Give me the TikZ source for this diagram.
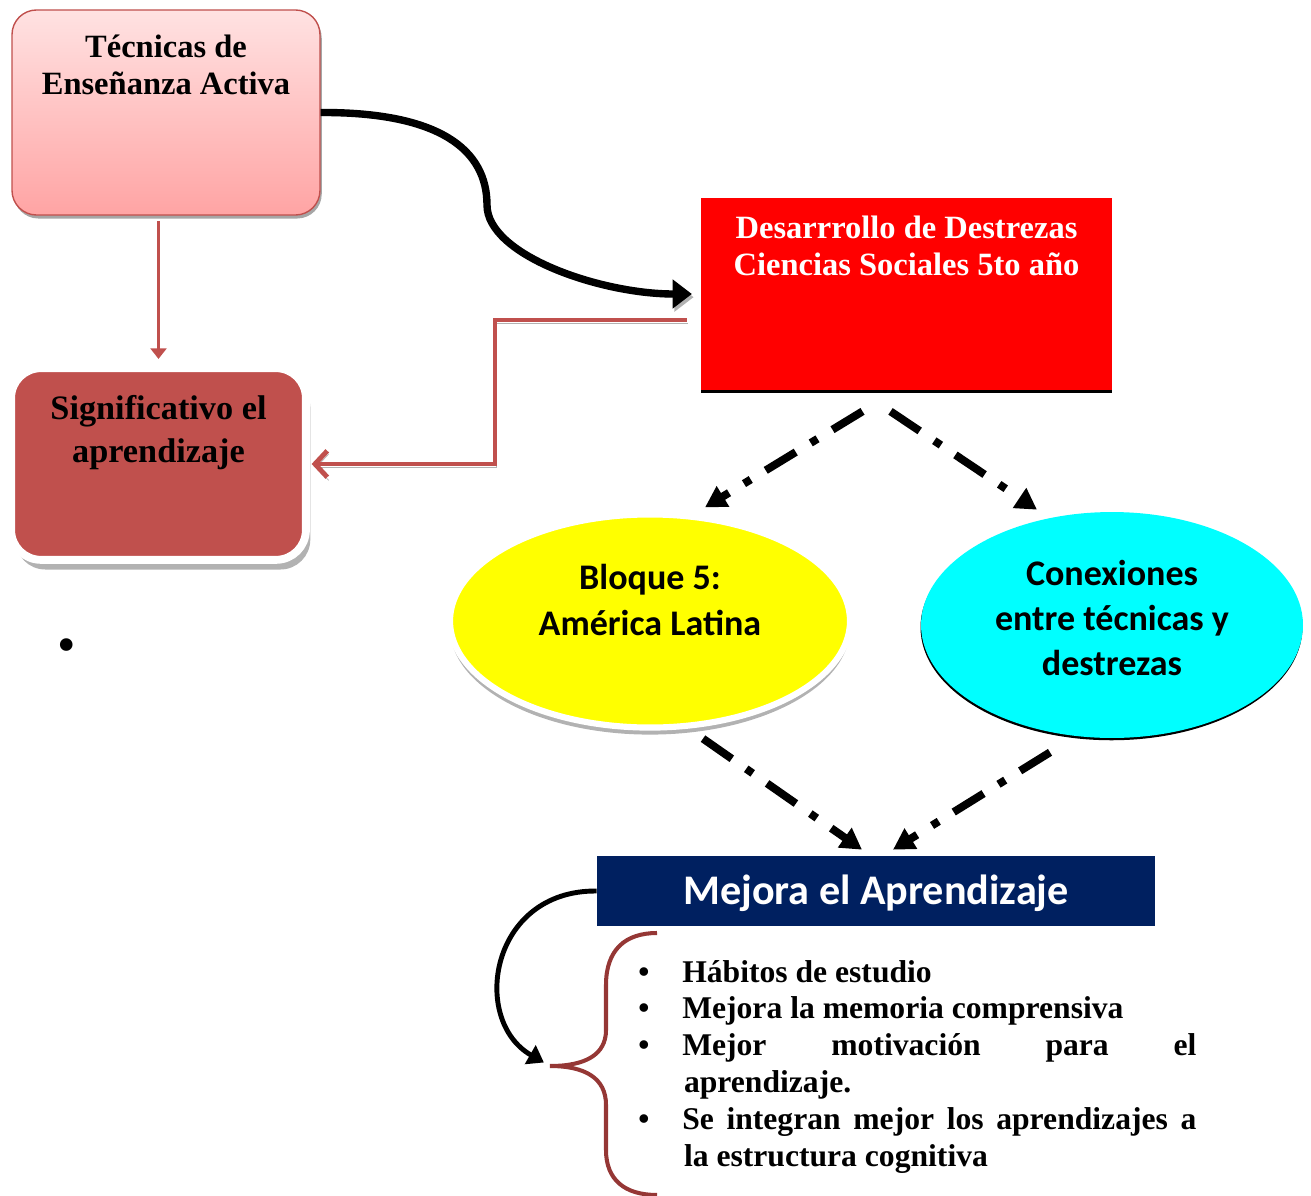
\documentclass[tikz,border=0pt]{standalone}
\usepackage{fontspec}
\setmainfont{Liberation Serif}
\newfontfamily\calibri{Carlito}
\usetikzlibrary{arrows.meta,calc,shapes.geometric,shadows}

\definecolor{rojoborde}{HTML}{C0504D}
\definecolor{rosaarriba}{HTML}{FFE2E2}
\definecolor{rosaabajo}{HTML}{FFA4A4}
\definecolor{rojopuro}{HTML}{FF0000}
\definecolor{amarillo}{HTML}{FFFF00}
\definecolor{celeste}{HTML}{00FFFF}
\definecolor{marino}{HTML}{002060}
\definecolor{llavecolor}{HTML}{953735}

\begin{document}
\begin{tikzpicture}
  [x=0.02cm,y=-0.02cm,
   cajatec/.style={rectangle,rounded corners=14pt,draw=rojoborde,line width=0.8pt,
     top color=rosaarriba,bottom color=rosaabajo,
     drop shadow={shadow xshift=1pt,shadow yshift=-2pt,fill=gray!70,opacity=1},
     inner sep=0pt,align=flush center,font=\bfseries\fontsize{18.5}{21}\selectfont},
   cajasig/.style={rectangle,rounded corners=17pt,fill=rojoborde,draw=white,line width=4.5pt,
     drop shadow={shadow xshift=2.5pt,shadow yshift=-5.5pt,fill=gray!60,opacity=1},
     inner sep=0pt,align=flush center,font=\bfseries\fontsize{19.5}{24}\selectfont},
   cajades/.style={rectangle,fill=rojopuro,text=white,
     drop shadow={shadow xshift=0pt,shadow yshift=-1.6pt,fill=black,opacity=1},
     inner sep=0pt,align=flush center,font=\bfseries\fontsize{18.5}{21.6}\selectfont},
   elipse/.style={ellipse,inner sep=0pt,align=flush center,
     font=\calibri\bfseries\fontsize{20.5}{25.8}\selectfont},
   cajamej/.style={rectangle,fill=marino,text=white,inner sep=0pt,
     font=\calibri\bfseries\fontsize{24}{28}\selectfont},
   curva/.style={line width=4.2pt,-{Triangle[length=11pt,width=16pt]},
     preaction={draw=gray!60,transform canvas={xshift=1pt,yshift=-1.8pt}}},
   rojolinea/.style={draw=rojoborde,line width=2.8pt,-{Straight Barb[length=7pt,width=15pt]},
     preaction={draw=gray!60,transform canvas={xshift=0.8pt,yshift=-1.8pt}}},
   rojoflecha/.style={draw=rojoborde,line width=2.2pt,-{Triangle[length=6pt,width=9pt]}},
   puntos/.style={line width=4.5pt,dash pattern=on 20pt off 10pt on 4.5pt off 10pt,
     -{Triangle[length=12pt,width=13pt]}},
   llave/.style={draw=llavecolor,line width=2.3pt}]

  \useasboundingbox (0,0) rectangle (1311,1196);

  % cajas
  \node[cajatec,minimum width=175.3pt,text width=175pt,text height=27.3pt,text depth=89.4pt]
    (tec) at (166,112.5) {Técnicas de\\Enseñanza Activa};
  \node[cajasig,minimum width=167.8pt,text width=167.5pt,text height=29.5pt,text depth=79.6pt]
    (sig) at (158.5,464) {Significativo el\\aprendizaje};
  \node[cajades,minimum width=233.9pt,text width=233.9pt,text height=22.8pt,text depth=86.5pt]
    (des) at (906.5,294) {Desarrrollo de Destrezas\\Ciencias Sociales 5to año};

  % elipses
  \node[elipse,fill=amarillo,draw=white,line width=3.5pt,
    drop shadow={shadow xshift=0pt,shadow yshift=-4pt,fill=gray!60,opacity=1},
    minimum width=227.7pt,minimum height=121.3pt,text width=150pt,text height=10pt,text depth=45.3pt]
    (bloque) at (650,621) {Bloque 5:\\América Latina};
  \node[elipse,fill=celeste,
    drop shadow={shadow xshift=-0.3pt,shadow yshift=-1.3pt,fill=black,opacity=1},
    minimum width=217.4pt,minimum height=128.6pt,text width=145pt,text height=10pt,text depth=55.5pt]
    (con) at (1112,625) {Conexiones\\entre técnicas y\\destrezas};

  \node[cajamej,minimum width=317.6pt,minimum height=39.8pt,text height=20pt,text depth=4.1pt]
    (mej) at (876,891) {Mejora el Aprendizaje};

  % lista
  \node[anchor=base west,inner sep=0pt,text width=317.6pt,align=justify,
    font=\bfseries\fontsize{18}{21}\selectfont] (lista) at (638,982)
    {\hyphenpenalty=10000
     \noindent\hangindent=26pt\hangafter=1\makebox[25pt][l]{\textbullet}Hábitos de estudio\par
     \noindent\hangindent=26pt\hangafter=1\makebox[25pt][l]{\textbullet}Mejora la memoria comprensiva\par
     \noindent\hangindent=26pt\hangafter=1\makebox[25pt][l]{\textbullet}Mejor motivación para el\linebreak aprendizaje.\par
     \noindent\hangindent=26pt\hangafter=1\makebox[25pt][l]{\textbullet}Se integran mejor los aprendizajes a\linebreak la estructura cognitiva\par};

  \node[inner sep=0pt,font=\fontsize{30}{32}\selectfont] (punto) at (67,651) {\textbullet};

  % llave
  \draw[llave] (657,933) .. controls (625,933) and (606,950) .. (606,985) -- (606,1030)
    .. controls (606,1055) and (585,1066) .. (550,1066)
    .. controls (585,1066) and (606,1078) .. (606,1105) -- (606,1150)
    .. controls (606,1180) and (625,1195) .. (657,1195);
  \coordinate (punta) at (550,1066);

  % conectores
  \coordinate (giro) at (487,205);
  \draw[curva,shorten >=5pt] (tec.east) .. controls (440,112) and (487,150) .. (giro)
    .. controls (487,255) and (600,294) .. (des.west);
  \draw[rojoflecha,shorten <=3pt,shorten >=3pt] (sig.north |- tec.south) -- (sig.north);
  \coordinate (inicio) at ($(des.west)+(-14,26)$);
  \coordinate (codo) at (495,320);
  \draw[rojolinea,shorten >=1pt] (inicio) -- (codo) |- (sig.east);
  \draw[line width=2.8pt,-{Triangle[length=9pt,width=12pt]},shorten >=4pt]
    (mej.west) .. controls (490,890) and (470,1020) .. (punta);

  \coordinate (d1) at ($(des.south)+(-44,21)$);
  \coordinate (d2) at ($(des.south)+(-16,21)$);
  \coordinate (b1) at ($(bloque.north)+(55,-4)$);
  \coordinate (c1) at ($(con.north)+(-75,-2)$);
  \coordinate (b2) at ($(bloque.south)+(53,8)$);
  \coordinate (c2) at ($(con.south)+(-62,14)$);
  \coordinate (m1) at ($(mej.north)+(-14,-6)$);
  \coordinate (m2) at ($(mej.north)+(17,-6)$);
  \foreach \from/\to in {d1/b1,d2/c1,b2/m1,c2/m2}
    \draw[puntos] (\from) -- (\to);

\end{tikzpicture}
\end{document}
